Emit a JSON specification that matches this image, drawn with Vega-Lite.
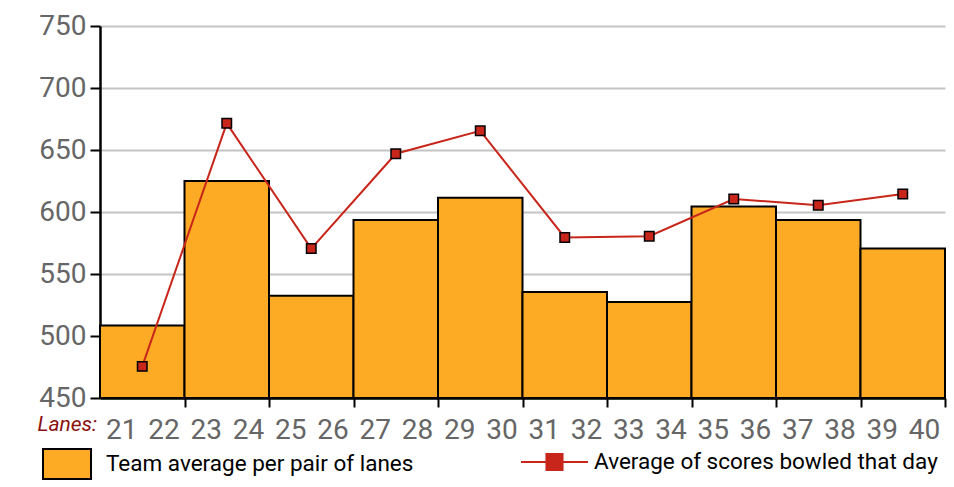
{
  "$schema": "https://vega.github.io/schema/vega-lite/v6.json",
  "width": 845,
  "height": 372,
  "autosize": {"type": "none"},
  "padding": {"left": 100, "top": 26, "right": 9, "bottom": 89},
  "config": {"font": "Roboto", "view": {"stroke": null}},
  "data": {
    "values": [
      {"lanes": "21-22", "start": 20.5, "end": 22.5, "center": 21.5, "team": 508.5, "day": 475.5},
      {"lanes": "23-24", "start": 22.5, "end": 24.5, "center": 23.5, "team": 625, "day": 671.5},
      {"lanes": "25-26", "start": 24.5, "end": 26.5, "center": 25.5, "team": 532.5, "day": 570.5},
      {"lanes": "27-28", "start": 26.5, "end": 28.5, "center": 27.5, "team": 593.5, "day": 647},
      {"lanes": "29-30", "start": 28.5, "end": 30.5, "center": 29.5, "team": 611.5, "day": 665.5},
      {"lanes": "31-32", "start": 30.5, "end": 32.5, "center": 31.5, "team": 535.5, "day": 579.5},
      {"lanes": "33-34", "start": 32.5, "end": 34.5, "center": 33.5, "team": 527.5, "day": 580.5},
      {"lanes": "35-36", "start": 34.5, "end": 36.5, "center": 35.5, "team": 604.5, "day": 610.5},
      {"lanes": "37-38", "start": 36.5, "end": 38.5, "center": 37.5, "team": 593.5, "day": 605.5},
      {"lanes": "39-40", "start": 38.5, "end": 40.5, "center": 39.5, "team": 570.5, "day": 614.5}
    ]
  },
  "layer": [
    {
      "mark": {"type": "bar", "stroke": "black", "strokeWidth": 2},
      "encoding": {
        "x": {
          "field": "start", "type": "quantitative",
          "scale": {"domain": [20.5, 40.5], "nice": false, "zero": false},
          "axis": {
            "values": [21,22,23,24,25,26,27,28,29,30,31,32,33,34,35,36,37,38,39,40],
            "format": "d",
            "ticks": false, "grid": false,
            "domainColor": "black", "domainWidth": 2.5,
            "labelFontSize": 28, "labelColor": "#666666",
            "labelBaseline": "alphabetic", "labelPadding": 40,
            "labelFlush": false, "labelOverlap": false,
            "title": "Lanes:", "titleFontStyle": "italic", "titleFontWeight": "normal",
            "titleColor": "#8B1010", "titleFontSize": 21,
            "titleX": -63, "titleY": 32, "titleAlign": "left", "titleBaseline": "alphabetic", "titleAngle": 0
          }
        },
        "x2": {"field": "end"},
        "y": {
          "field": "team", "type": "quantitative",
          "scale": {"domain": [450, 750], "nice": false, "zero": false},
          "axis": {
            "values": [450, 500, 550, 600, 650, 700, 750],
            "title": null, "grid": true, "gridColor": "#c4c4c4", "gridWidth": 2,
            "domainColor": "black", "domainWidth": 2.5,
            "tickColor": "black", "tickWidth": 2, "tickSize": 10,
            "labelFontSize": 28, "labelColor": "#666666", "labelPadding": 4
          }
        },
        "y2": {"datum": 450},
        "fill": {
          "datum": "Team average per pair of lanes",
          "scale": {"range": ["#FDAB25"]},
          "legend": {
            "orient": "none", "legendX": -58, "legendY": 413, "title": null,
            "symbolType": "M-1,-0.625H1V0.625H-1Z", "symbolSize": 2304,
            "symbolStrokeColor": "black", "symbolStrokeWidth": 2, "symbolOpacity": 1,
            "labelFontSize": 22.5, "labelColor": "#000000", "labelOffset": 14, "labelLimit": 0
          }
        }
      }
    },
    {
      "mark": {"type": "line", "strokeWidth": 2},
      "encoding": {
        "x": {
          "field": "center", "type": "quantitative",
          "axis": {
            "orient": "bottom",
            "values": [22.5, 24.5, 26.5, 28.5, 30.5, 32.5, 34.5, 36.5, 38.5, 40.5],
            "labels": false, "domain": false, "grid": false,
            "tickSize": 9, "tickWidth": 2, "tickColor": "black", "title": null
          }
        },
        "y": {"field": "day", "type": "quantitative"},
        "stroke": {
          "datum": "Average of scores bowled that day",
          "scale": {"range": ["#C8261A"]},
          "legend": {
            "orient": "none", "legendX": 420, "legendY": 401.5, "title": null,
            "symbolType": "M-1,0H1M-0.24,-0.24H0.24V0.24H-0.24Z", "symbolSize": 4489,
            "symbolStrokeWidth": 2, "symbolFillColor": "#C8261A",
            "labelFontSize": 22.5, "labelColor": "#000000", "labelOffset": 5, "labelLimit": 0
          }
        }
      }
    },
    {
      "mark": {"type": "square", "size": 90, "fill": "#C8261A", "stroke": "black", "strokeWidth": 1.5, "opacity": 1},
      "encoding": {
        "x": {"field": "center", "type": "quantitative", "axis": null},
        "y": {"field": "day", "type": "quantitative"}
      }
    }
  ],
  "resolve": {"axis": {"x": "independent"}}
}
